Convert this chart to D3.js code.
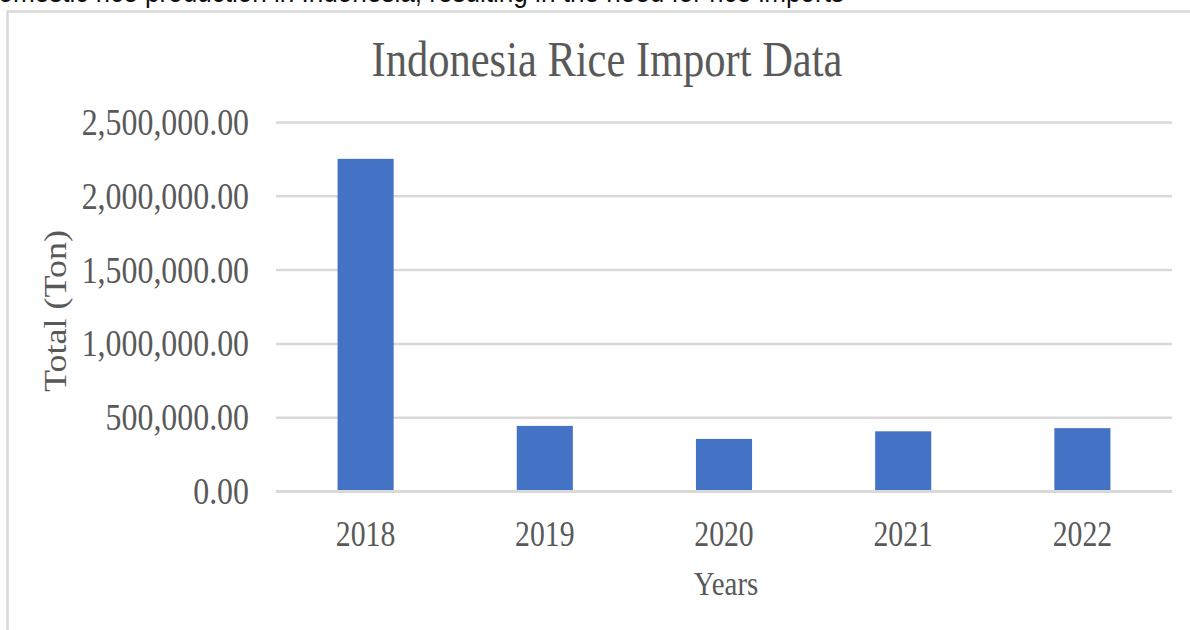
<!DOCTYPE html>
<html>
<head>
<meta charset="utf-8">
<script src="https://cdn.jsdelivr.net/npm/d3@7/dist/d3.min.js"></script>
<style>
  html, body { margin: 0; padding: 0; background: #fff; }
  svg { display: block; }
</style>
</head>
<body>
<svg id="chart" width="1190" height="630"></svg>
<script>
const years = ["2018", "2019", "2020", "2021", "2022"];
const imports = [2253824, 444509, 356286, 407741, 429207];
const yTicks = [0, 500000, 1000000, 1500000, 2000000, 2500000];
const title = "Indonesia Rice Import Data";
const xTitle = "Years";
const yTitle = "Total (Ton)";
const topText = "of domestic rice production in Indonesia, resulting in the need for rice imports";

const svg = d3.select("#chart");
const textColor = "#595959";
const gridColor = "#d9d9d9";
const serif = "'Liberation Serif', 'Times New Roman', serif";
const sx = 0.85; // horizontal squeeze of the reference image

const x = d3.scaleBand().domain(years).range([276, 1172])
  .paddingInner(0.687).paddingOuter(0.3435);
const y = d3.scaleLinear().domain([0, 2500000]).range([491.5, 122.5]);

// cut-off body text at the top (cropped in the reference too)
svg.append("text")
  .attr("transform", "translate(-45,2) scale(0.9,1)")
  .attr("font-family", "'Liberation Sans', Arial, sans-serif")
  .attr("font-size", 29)
  .attr("fill", "#111")
  .text(topText);

// chart frame
svg.append("rect")
  .attr("x", 7.5).attr("y", 11.5)
  .attr("width", 1300).attr("height", 700)
  .attr("fill", "#fff")
  .attr("stroke", gridColor).attr("stroke-width", 2.5);

// gridlines (non-zero)
svg.append("g").selectAll("line")
  .data(yTicks.filter(d => d !== 0))
  .join("line")
  .attr("x1", 276).attr("x2", 1172)
  .attr("y1", d => y(d)).attr("y2", d => y(d))
  .attr("stroke", gridColor).attr("stroke-width", 2.5);

// bars
svg.append("g").selectAll("rect")
  .data(years.map((yr, i) => ({ yr, v: imports[i] })))
  .join("rect")
  .attr("x", d => x(d.yr))
  .attr("width", x.bandwidth())
  .attr("y", d => y(d.v))
  .attr("height", d => y(0) - y(d.v))
  .attr("fill", "#4472c4");

// zero axis line
svg.append("line")
  .attr("x1", 276).attr("x2", 1172)
  .attr("y1", y(0)).attr("y2", y(0))
  .attr("stroke", gridColor).attr("stroke-width", 3);

// y tick labels
const fmt = d3.format(",.2f");
svg.append("g").selectAll("text")
  .data(yTicks)
  .join("text")
  .attr("transform", d => `translate(249,${y(d) + 12.5}) scale(${sx},1)`)
  .attr("text-anchor", "end")
  .attr("font-family", serif)
  .attr("font-size", 37.5)
  .attr("fill", textColor)
  .text(d => fmt(d));

// x tick labels
svg.append("g").selectAll("text")
  .data(years)
  .join("text")
  .attr("transform", d => `translate(${x(d) + x.bandwidth() / 2},546) scale(${sx},1)`)
  .attr("text-anchor", "middle")
  .attr("font-family", serif)
  .attr("font-size", 35)
  .attr("fill", textColor)
  .text(d => d);

// title
svg.append("text")
  .attr("transform", `translate(607,76) scale(${sx},1)`)
  .attr("text-anchor", "middle")
  .attr("font-family", serif)
  .attr("font-size", 50)
  .attr("fill", textColor)
  .text(title);

// x axis title
svg.append("text")
  .attr("transform", `translate(726,595) scale(${sx},1)`)
  .attr("text-anchor", "middle")
  .attr("font-family", serif)
  .attr("font-size", 34)
  .attr("fill", textColor)
  .text(xTitle);

// y axis title
svg.append("text")
  .attr("transform", `translate(66,311) scale(${sx},1) rotate(-90)`)
  .attr("text-anchor", "middle")
  .attr("font-family", serif)
  .attr("font-size", 36)
  .attr("fill", textColor)
  .text(yTitle);
</script>
</body>
</html>
